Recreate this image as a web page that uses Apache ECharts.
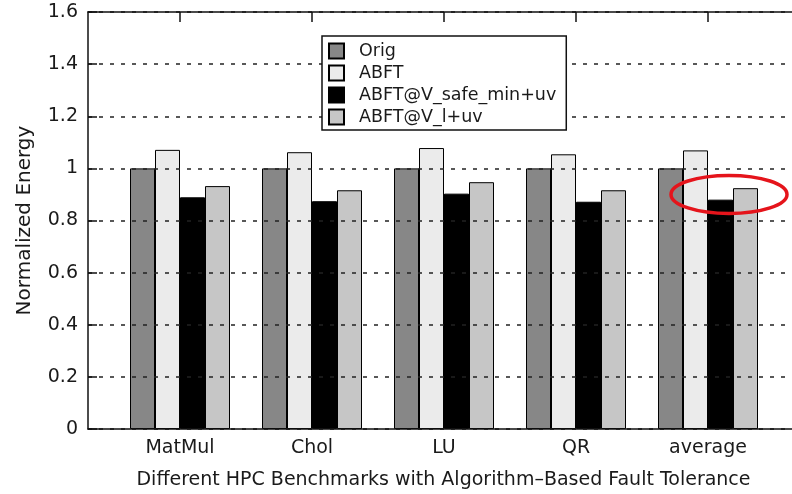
<!DOCTYPE html>
<html>
<head>
<meta charset="utf-8">
<script src="https://cdn.jsdelivr.net/npm/echarts@6/dist/echarts.min.js"></script>
<style>html,body{margin:0;padding:0;background:#fff}#c{width:792px;height:494px}</style>
</head>
<body>
<div id="c"></div>
<script>
const categories = ['MatMul', 'Chol', 'LU', 'QR', 'average'];
const seriesNames = ['Orig', 'ABFT', 'ABFT@V_safe_min+uv', 'ABFT@V_l+uv'];
const origValues = [1.0, 1.0, 1.0, 1.0, 1.0];
const abftValues = [1.071, 1.062, 1.078, 1.054, 1.069];
const safeMinValues = [0.889, 0.874, 0.903, 0.872, 0.880];
const vlValues = [0.932, 0.916, 0.947, 0.916, 0.924];
const yMin = 0, yMax = 1.6, yStep = 0.2;
const xTitle = 'Different HPC Benchmarks with Algorithm\u2013Based Fault Tolerance';
const yTitle = 'Normalized Energy';

const colors = ['#878787', '#ebebeb', '#000000', '#c6c6c6'];
const allValues = [origValues, abftValues, safeMinValues, vlValues];
const FONT = 'DejaVu Sans';
const TXT = '#1a1a1a';
const frameLine = {show: true, lineStyle: {color: '#111', width: 1.5}};
const BAND = 132; // px per category band

const chart = echarts.init(document.getElementById('c'), null, {renderer: 'canvas'});

const series = seriesNames.map((name, i) => ({
  name: name,
  type: 'bar',
  xAxisIndex: 1,
  yAxisIndex: 1,
  data: allValues[i],
  barWidth: 25,
  barGap: '0%',
  itemStyle: {color: colors[i], borderColor: '#000', borderWidth: 1},
  emphasis: {disabled: true},
  z: 3
}));

chart.setOption({
  animation: false,
  backgroundColor: '#fff',
  textStyle: {fontFamily: FONT},
  grid: [
    {left: 88, top: 12, width: 711, height: 417, outerBoundsMode: 'none', containLabel: false, show: false},
    {left: 114, top: 12, width: BAND * categories.length, height: 417, outerBoundsMode: 'none', containLabel: false, show: false}
  ],
  xAxis: [
    {type: 'value', gridIndex: 0, min: 0, max: 1, position: 'bottom', z: 5,
     axisLine: frameLine, axisTick: {show: false}, axisLabel: {show: false}, splitLine: {show: false},
     name: xTitle, nameLocation: 'middle', nameGap: 42,
     nameTextStyle: {fontFamily: FONT, fontSize: 19, color: TXT}},
    {type: 'category', gridIndex: 1, data: categories, position: 'bottom', z: 1,
     axisLine: {show: false},
     axisTick: {show: false},
     axisLabel: {fontFamily: FONT, fontSize: 19, color: TXT, margin: 10, interval: 0},
     splitLine: {show: false}},
    {type: 'value', gridIndex: 0, min: 0, max: 1, position: 'top', z: 5,
     axisLine: frameLine, axisTick: {show: false}, axisLabel: {show: false}, splitLine: {show: false}}
  ],
  yAxis: [
    {type: 'value', gridIndex: 0, min: yMin, max: yMax, interval: yStep, z: 5,
     axisLine: frameLine,
     axisTick: {show: true, inside: true, length: 9, lineStyle: {color: '#111', width: 1.5}},
     axisLabel: {fontFamily: FONT, fontSize: 19, color: TXT, margin: 10},
     splitLine: {show: true, lineStyle: {color: '#222', width: 1.5, type: [4, 7]}},
     name: yTitle, nameLocation: 'middle', nameGap: 53,
     nameTextStyle: {fontFamily: FONT, fontSize: 20, color: TXT}},
    {type: 'value', gridIndex: 1, min: yMin, max: yMax, interval: yStep, show: false}
  ],
  legend: {
    data: seriesNames,
    orient: 'vertical',
    left: 322, top: 36,
    itemWidth: 15, itemHeight: 15, itemGap: 4,
    padding: [6, 10, 4, 6],
    borderColor: '#111', borderWidth: 1.5,
    backgroundColor: '#fff',
    icon: 'rect',
    selectedMode: false,
    textStyle: {fontFamily: FONT, fontSize: 17.5, color: TXT, padding: [0, 0, 0, 10]},
    z: 10
  },
  series: series
});

// mirrored top ticks at category centres, taken from the category axis scale
const graphics = categories.map((c, i) => {
  const p = chart.convertToPixel({xAxisIndex: 1, yAxisIndex: 1}, [i, yMax]);
  return {
    type: 'line',
    shape: {x1: p[0], y1: p[1], x2: p[0], y2: p[1] + 10},
    style: {stroke: '#111', lineWidth: 1.5},
    z: 50
  };
});

// highlight ellipse around the 'average' reduced-voltage bars
const avgIdx = categories.indexOf('average');
const c1 = chart.convertToPixel({xAxisIndex: 1, yAxisIndex: 1}, [avgIdx, 0.9]);
graphics.push({
  type: 'ellipse',
  shape: {cx: c1[0] + 21, cy: c1[1], rx: 58, ry: 19},
  style: {fill: 'none', stroke: '#e5141b', lineWidth: 3.5},
  z: 100
});
chart.setOption({graphic: graphics});
</script>
</body>
</html>
